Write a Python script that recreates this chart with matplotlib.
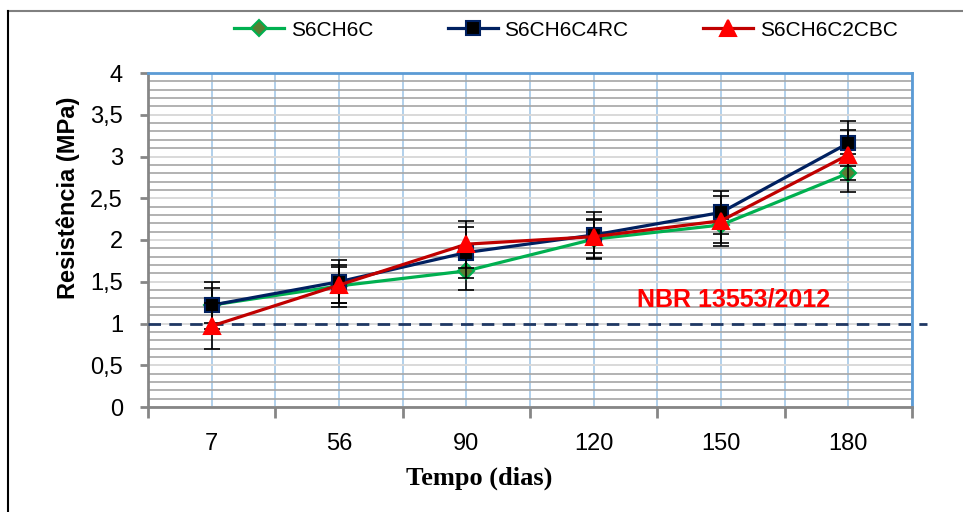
import numpy as np
import matplotlib.pyplot as plt
from matplotlib.lines import Line2D
from matplotlib.ticker import MultipleLocator, FixedLocator, FuncFormatter

# data
dias = ['7', '56', '90', '120', '150', '180']
s6ch6c = [1.22, 1.45, 1.63, 2.01, 2.18, 2.80]
s6ch6c_err = [0.21, 0.25, 0.23, 0.24, 0.21, 0.23]
s6ch6c4rc = [1.22, 1.50, 1.85, 2.06, 2.33, 3.16]
s6ch6c4rc_err = [0.28, 0.26, 0.30, 0.27, 0.26, 0.27]
s6ch6c2cbc = [0.97, 1.46, 1.95, 2.04, 2.23, 3.02]
s6ch6c2cbc_err = [0.27, 0.22, 0.28, 0.20, 0.30, 0.30]
limite = 1.0
limite_txt = 'NBR 13553/2012'

SANS = ['Liberation Sans', 'DejaVu Sans']

fig = plt.figure(figsize=(9.63, 5.12), dpi=100)
ax = fig.add_axes([148/963, 105/512, 764/963, 334/512])

x = np.arange(len(dias))

series = [
    ('S6CH6C', s6ch6c, s6ch6c_err, '#00b050', 'D', '#5a7d32', '#00b050', 8),
    ('S6CH6C4RC', s6ch6c4rc, s6ch6c4rc_err, '#002060', 's', 'black', '#002060', 10),
    ('S6CH6C2CBC', s6ch6c2cbc, s6ch6c2cbc_err, '#c00000', '^', '#ff0000', '#ff0000', 11),
]
for i, (nome, y, e, cor, mk, fc, ec, ms) in enumerate(series):
    ax.errorbar(x, y, yerr=e, fmt='none', ecolor='black', elinewidth=1.2,
                capsize=5.5, capthick=1.2, zorder=4 + i)
    ax.plot(x, y, color=cor, lw=2.3, marker=mk, markersize=ms,
            markerfacecolor=fc, markeredgecolor=ec, markeredgewidth=1.5,
            label=nome, zorder=4 + i)

# reference line, runs a bit past the plot area
ax.axhline(limite, xmin=0, xmax=1.02, color='#1f3864', lw=2, ls=(0, (4.5, 3)),
           clip_on=False, zorder=3)
ax.text(3.34, 1.29, limite_txt, color='#ff0000', fontsize=18, fontweight='bold',
        family=SANS, va='center', ha='left', zorder=8)

ax.set_xlim(-0.5, len(dias) - 0.5)
ax.set_ylim(0, 4)

# gridlines
ax.yaxis.set_major_locator(MultipleLocator(0.5))
ax.yaxis.set_minor_locator(MultipleLocator(0.1))
ax.yaxis.set_major_formatter(FuncFormatter(lambda v, p: ('%g' % v).replace('.', ',')))
ax.grid(which='minor', axis='y', color='#a6a6a6', lw=1.2, zorder=0)
ax.grid(which='major', axis='y', color='#d9d9d9', lw=1.4, zorder=0)
for v in np.arange(-0.5, len(dias), 0.5):
    ax.axvline(v, color='#9dc3e6', lw=1.1, zorder=1)

ax.set_xticks(x)
ax.set_xticklabels(dias)
ax.xaxis.set_minor_locator(FixedLocator(np.arange(-0.5, len(dias), 1.0)))
ax.tick_params(axis='x', which='major', length=0, pad=19, labelsize=17)
ax.tick_params(axis='x', which='minor', length=8, width=2, color='#868686', direction='out')
ax.tick_params(axis='y', which='major', length=6, width=2, color='#868686', direction='out',
               pad=12, labelsize=17)
ax.tick_params(axis='y', which='minor', length=0)
for lab in ax.get_xticklabels() + ax.get_yticklabels():
    lab.set_family(SANS)

for s in ['left', 'bottom']:
    ax.spines[s].set_color('#868686')
    ax.spines[s].set_linewidth(2)
for s in ['top', 'right']:
    ax.spines[s].set_color('#5b9bd5')
    ax.spines[s].set_linewidth(2)

ax.set_ylabel('Resistência (MPa)', fontsize=17, fontweight='bold', family=SANS)
ax.yaxis.set_label_coords(-0.089, 0.626)
ax.set_xlabel('Tempo (dias)', fontsize=19, fontweight='bold', family='Liberation Serif')
ax.xaxis.set_label_coords(0.433, -0.177)

fig.legend(loc='center', bbox_to_anchor=(566/963, 1 - 30/512), ncol=3, frameon=False,
           prop={'family': SANS, 'size': 15}, handlelength=2.4, columnspacing=3.6,
           handletextpad=0.3)

# outer frame (only top and left are visible)
fig.add_artist(Line2D([8/963, 1], [1 - 11/512, 1 - 11/512], color='#808080', lw=1.5))
fig.add_artist(Line2D([8/963, 8/963], [0, 1 - 11/512], color='black', lw=1.5))

fig.savefig('out.png', dpi=100)
